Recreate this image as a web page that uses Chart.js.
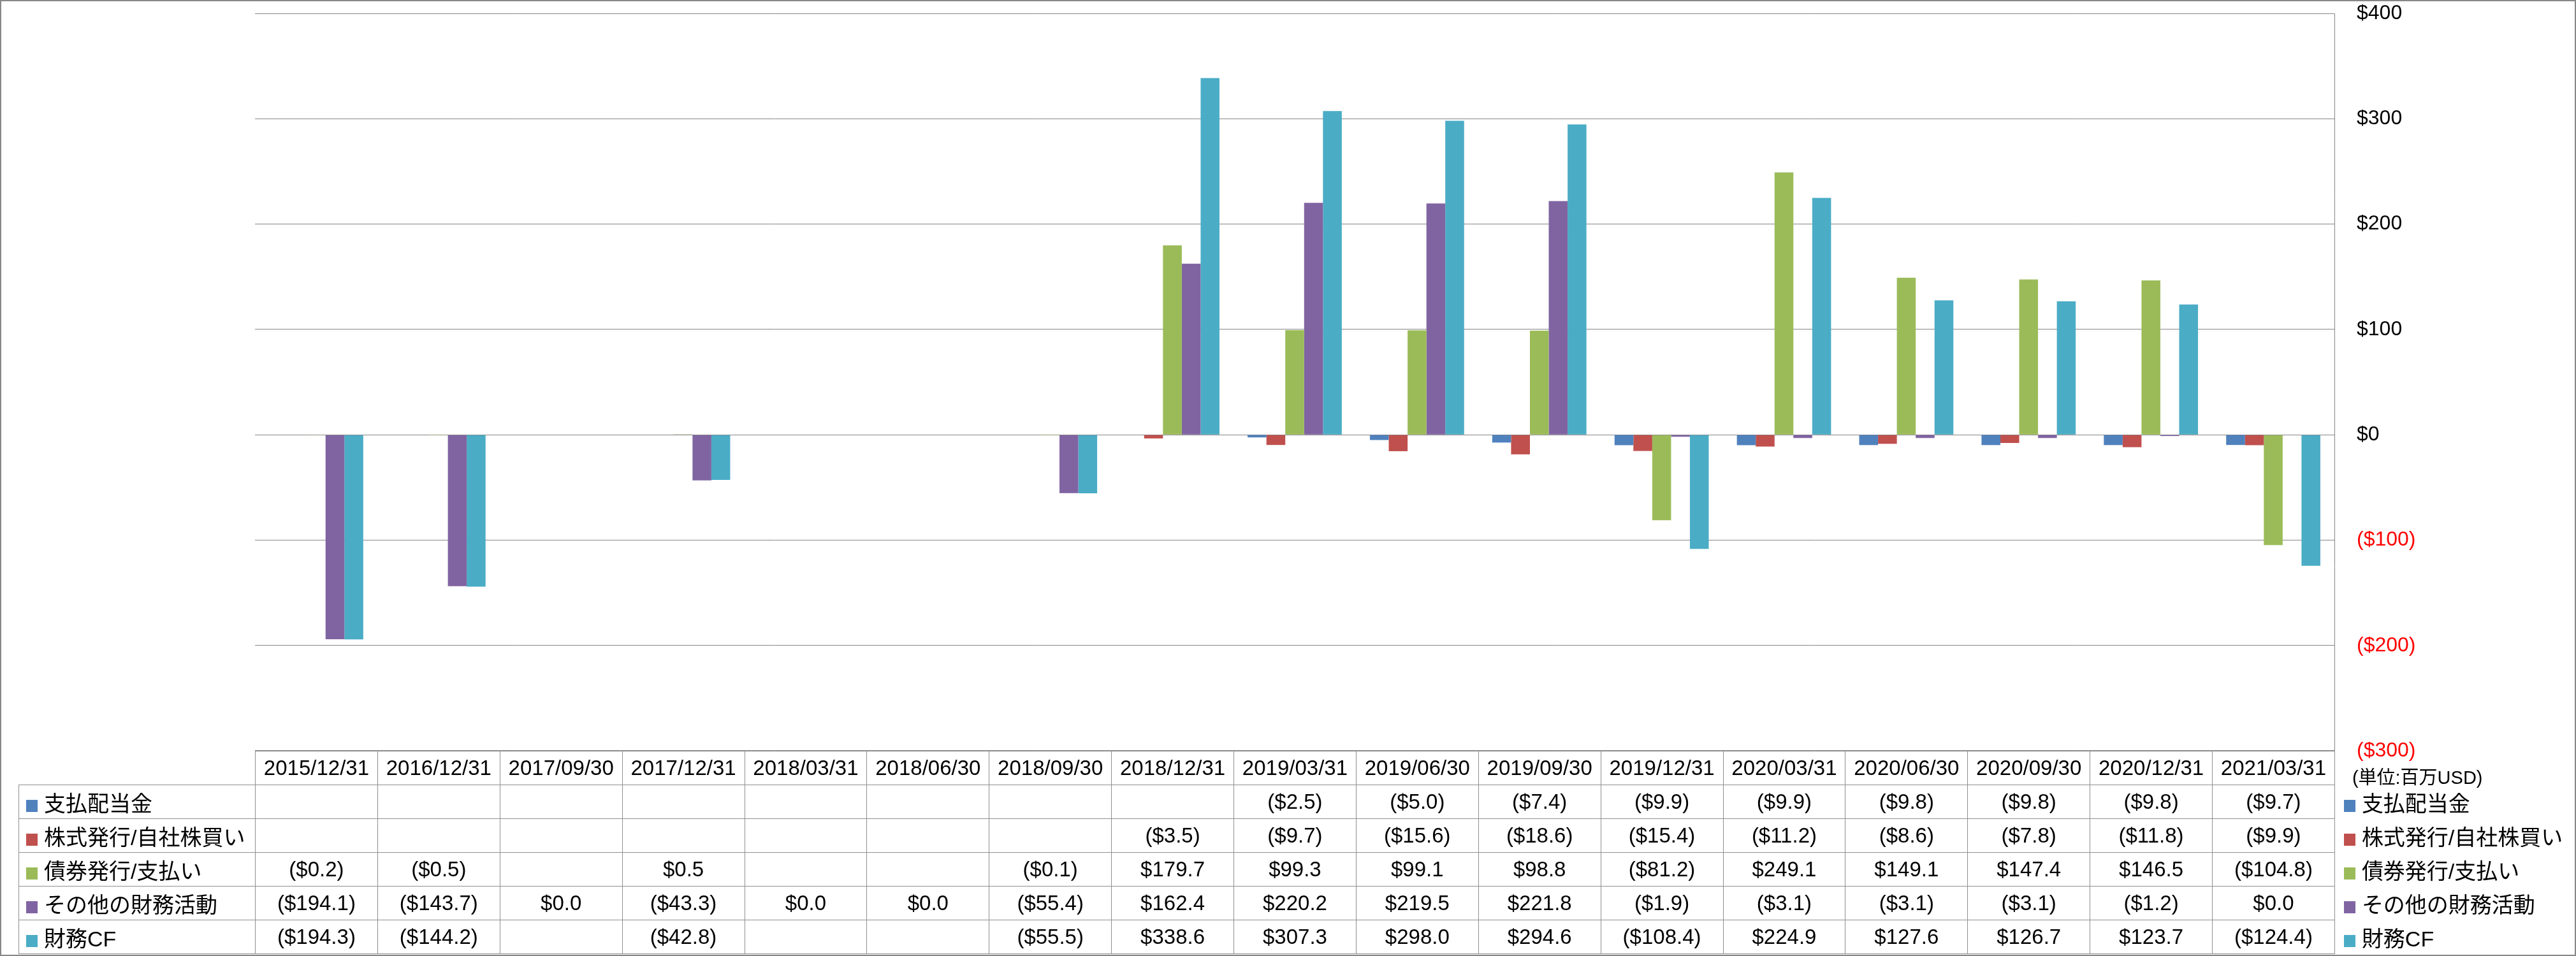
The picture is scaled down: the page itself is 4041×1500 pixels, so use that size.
<!DOCTYPE html>
<html>
<head>
<meta charset="utf-8">
<script src="https://cdn.jsdelivr.net/npm/chart.js@4.4.0/dist/chart.umd.min.js"></script>
<style>
body { margin: 0; background: #fff; }
#wrap { position: relative; width: 4041px; height: 1500px; overflow: hidden;
        font-family: "Liberation Sans", "Noto Sans CJK JP", sans-serif; }
#chart { position: absolute; left: 0; top: 0; }
#frame { position: absolute; left: 0; top: 0; width: 4041px; height: 1500px; box-sizing: border-box;
         border: 2px solid #878787; pointer-events: none; }
#tbl { position: absolute; left: 29px; top: 1177px; border-collapse: collapse; table-layout: fixed;
       font-size: 33px; color: #000; }
#tbl td { border: 1px solid #8f8f8f; padding: 0; text-align: center; vertical-align: middle;
          white-space: nowrap; overflow: hidden; }
#tbl tr.head td { height: 53px; }
#tbl tr.body td { height: 52px; }
#tbl td.name { text-align: left; padding-left: 11px; font-size: 34px; }
#tbl td.blank { border-top: none; border-left: none; }
#tbl td.leg { border-top: none; border-bottom: none; border-right: none; text-align: left; padding-left: 14px; font-size: 34px; }
#tbl td.unit { font-size: 29px; padding-left: 27px; overflow: visible; }
#tbl td.unit span { position: relative; top: 12px; }
.mk { display: inline-block; width: 18px; height: 19px; margin-right: 10px; vertical-align: -1px; }
</style>
</head>
<body>
<div id="wrap">
  <canvas id="chart" width="4041" height="1500"></canvas>
  <table id="tbl"></table>
  <div id="frame"></div>
</div>
<script>
// 決算期
var labels = ['2015/12/31', '2016/12/31', '2017/09/30', '2017/12/31', '2018/03/31', '2018/06/30',
              '2018/09/30', '2018/12/31', '2019/03/31', '2019/06/30', '2019/09/30', '2019/12/31',
              '2020/03/31', '2020/06/30', '2020/09/30', '2020/12/31', '2021/03/31'];

// 単位: 百万USD (null = 空欄)
var dividends = [null, null, null, null, null, null, null, null, -2.5, -5.0, -7.4, -9.9, -9.9, -9.8, -9.8, -9.8, -9.7];
var stock     = [null, null, null, null, null, null, null, -3.5, -9.7, -15.6, -18.6, -15.4, -11.2, -8.6, -7.8, -11.8, -9.9];
var bonds     = [-0.2, -0.5, null, 0.5, null, null, -0.1, 179.7, 99.3, 99.1, 98.8, -81.2, 249.1, 149.1, 147.4, 146.5, -104.8];
var other     = [-194.1, -143.7, 0.0, -43.3, 0.0, 0.0, -55.4, 162.4, 220.2, 219.5, 221.8, -1.9, -3.1, -3.1, -3.1, -1.2, 0.0];
var financeCF = [-194.3, -144.2, null, -42.8, null, null, -55.5, 338.6, 307.3, 298.0, 294.6, -108.4, 224.9, 127.6, 126.7, 123.7, -124.4];

var seriesNames  = ['支払配当金', '株式発行/自社株買い', '債券発行/支払い', 'その他の財務活動', '財務CF'];
var seriesData   = [dividends, stock, bonds, other, financeCF];
var seriesColors = ['#4F81BD', '#C0504D', '#9BBB59', '#8064A2', '#4BACC6'];

var yTicks = [-300, -200, -100, 0, 100, 200, 300, 400];

function money(v) {
    if (v === null) return '';
    if (v < 0) return '($' + (-v).toFixed(1) + ')';
    return '$' + v.toFixed(1);
}

function axisMoney(v) {
    return v < 0 ? '($' + (-v) + ')' : '$' + v;
}

/** データテーブル */
function buildTable() {
    var colW = (3662 - 400) / labels.length;
    var html = '<colgroup><col style="width:371px">';
    for (var i = 0; i < labels.length; i++) html += '<col style="width:' + colW + 'px">';
    html += '<col style="width:377px"></colgroup>';

    html += '<tr class="head"><td class="blank"></td>';
    for (i = 0; i < labels.length; i++) html += '<td>' + labels[i] + '</td>';
    html += '<td class="leg unit"><span>(単位:百万USD)</span></td></tr>';

    for (var s = 0; s < seriesNames.length; s++) {
        var mark = '<span class="mk" style="background:' + seriesColors[s] + '"></span>';
        html += '<tr class="body"><td class="name">' + mark + seriesNames[s] + '</td>';
        for (i = 0; i < labels.length; i++) html += '<td>' + money(seriesData[s][i]) + '</td>';
        html += '<td class="leg">' + mark + seriesNames[s] + '</td></tr>';
    }
    document.getElementById('tbl').innerHTML = html;
}
buildTable();

var datasets = [];
for (var s = 0; s < seriesNames.length; s++) {
    datasets.push({
        label: seriesNames[s],
        data: seriesData[s],
        backgroundColor: seriesColors[s],
        borderWidth: 0
    });
}

var ctx = document.getElementById('chart').getContext('2d');
new Chart(ctx, {
    type: 'bar',
    data: { labels: labels, datasets: datasets },
    options: {
        responsive: false,
        animation: false,
        layout: { padding: { left: 400, top: 21, right: 0, bottom: 322 } },
        plugins: { legend: { display: false }, tooltip: { enabled: false } },
        datasets: { bar: { barPercentage: 1.0, categoryPercentage: 0.77 } },
        scales: {
            x: { display: false },
            y: {
                position: 'right',
                min: yTicks[0],
                max: yTicks[yTicks.length - 1],
                afterFit: function (scale) {
                    scale.width = 379;
                    scale.paddingTop = 0;
                    scale.paddingBottom = 0;
                },
                afterBuildTicks: function (scale) {
                    scale.ticks = yTicks.map(function (v) { return { value: v }; });
                },
                ticks: {
                    padding: 35,
                    font: { size: 32, family: '"Liberation Sans", sans-serif' },
                    color: function (c) { return c.tick.value < 0 ? '#FF0000' : '#000000'; },
                    callback: function (v) { return axisMoney(v); }
                },
                grid: { color: '#868686', lineWidth: 1, drawTicks: false },
                border: { display: true, color: '#868686', width: 1 }
            }
        }
    }
});
</script>
</body>
</html>
